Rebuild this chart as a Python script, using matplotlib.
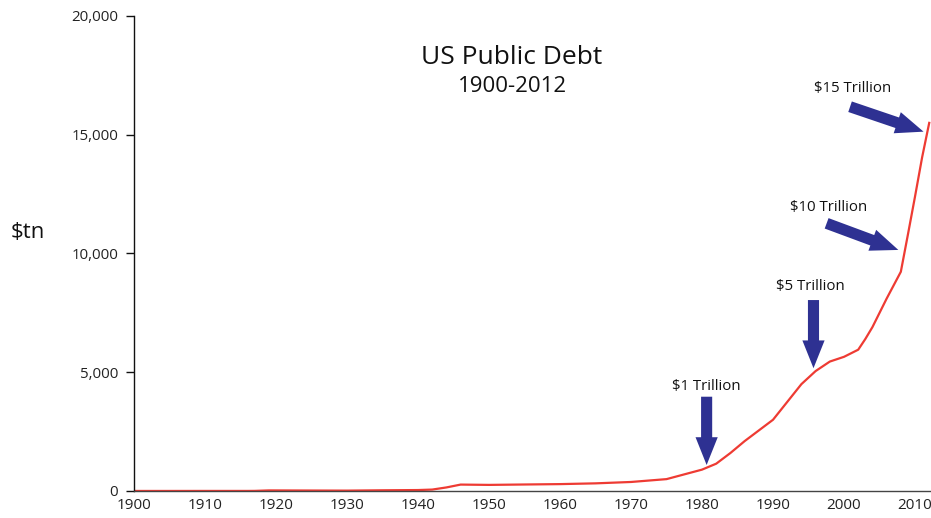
import matplotlib
matplotlib.use("Agg")
import matplotlib.pyplot as plt

years = [1900, 1905, 1910, 1916, 1917, 1919, 1925, 1930, 1935, 1940, 1942, 1944, 1946,
         1950, 1955, 1960, 1965, 1970, 1975, 1980, 1982, 1984, 1986, 1988, 1990, 1992,
         1994, 1996, 1998, 2000, 2002, 2003, 2004, 2006, 2008, 2009, 2010, 2011, 2012]
debt = [2, 2, 3, 3, 5, 25, 20, 16, 30, 40, 60, 150, 270,
        257, 274, 290, 322, 380, 500, 900, 1150, 1600, 2100, 2550, 3000, 3750,
        4500, 5050, 5450, 5650, 5950, 6400, 6900, 8100, 9230, 10800, 12400, 14050, 15500]

xticks = [1900, 1910, 1920, 1930, 1940, 1950, 1960, 1970, 1980, 1990, 2000, 2010]
yticks = [0, 5000, 10000, 15000, 20000]
ytick_labels = ["0", "5,000", "10,000", "15,000", "20,000"]

# annotations: label, label position, arrow start, arrow end
ann_labels = ["$1 Trillion", "$5 Trillion", "$10 Trillion", "$15 Trillion"]
ann_text_xy = [(1980.65, 4400), (1995.3, 8600), (1997.8, 11950), (2001.2, 16960)]
ann_from = [(1980.65, 3970), (1995.7, 8040), (1997.55, 11270), (2000.85, 16180)]
ann_to = [(1980.65, 1095), (1995.7, 5170), (2007.65, 10150), (2011.2, 15130)]

plt.rcParams['font.family'] = ['Open Sans', 'DejaVu Sans']

fig = plt.figure(figsize=(9.31, 5.18), dpi=100)
ax = fig.add_axes([134/931, 27/518, 1 - 134/931, (491-16)/518])

ax.plot(years, debt, color="#EE3B33", lw=1.6, solid_joinstyle="round", clip_on=True)

ax.set_xlim(1900, 2012.25)
ax.set_ylim(0, 20000)
ax.set_xticks(xticks)
ax.set_xticklabels([str(x) for x in xticks])
ax.set_yticks(yticks)
ax.set_yticklabels(ytick_labels)

for s in ["top", "right"]:
    ax.spines[s].set_visible(False)
ax.spines["left"].set_color("#111111")
ax.spines["left"].set_linewidth(1.0)
ax.spines["bottom"].set_color("#444444")
ax.spines["bottom"].set_linewidth(1.0)

ax.tick_params(axis="y", length=6, width=1, color="#111111", labelsize=10.8, pad=5.5, labelcolor="#222222")
ax.tick_params(axis="x", length=0, labelsize=11, pad=5, labelcolor="#222222")

for lab, txy, a0, a1 in zip(ann_labels, ann_text_xy, ann_from, ann_to):
    ax.text(txy[0], txy[1], lab, ha="center", va="center", fontsize=10.8, color="#111111")
    ax.annotate("", xy=a1, xytext=a0,
                arrowprops=dict(arrowstyle="simple,head_width=1.6,head_length=2.0,tail_width=0.8",
                                mutation_scale=10, color="#2E3192", shrinkA=0, shrinkB=0, lw=0))

fig.text(512/931, 1 - 57/518, "US Public Debt", ha="center", va="center", fontsize=19, color="#111111")
fig.text(512/931, 1 - 87/518, "1900-2012", ha="center", va="center", fontsize=16, color="#111111")
fig.text(28/931, 1 - 233/518, "$tn", ha="center", va="center", fontsize=16, color="#111111")

fig.savefig("out.png", dpi=100)
